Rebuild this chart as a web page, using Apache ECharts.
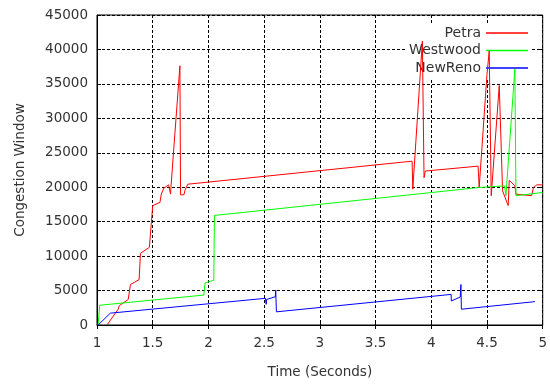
<!DOCTYPE html>
<html>
<head>
<meta charset="utf-8">
<script src="https://cdn.jsdelivr.net/npm/echarts@6/dist/echarts.min.js"></script>
<style>
  html, body { margin: 0; padding: 0; background: #fff; }
  #chart { width: 550px; height: 384px; }
</style>
</head>
<body>
<div id="chart"></div>
<script>
// congestion window traces (time in s, cwnd)
const petraTime = [1.09, 1.19, 1.2, 1.28, 1.30, 1.378, 1.39, 1.47, 1.50, 1.565, 1.577, 1.60, 1.643, 1.655, 1.66, 1.665, 1.744, 1.75, 1.78, 1.79, 1.80, 1.815,
  3.828, 3.834, 3.92, 3.935, 3.947, 4.42, 4.43, 4.50, 4.52, 4.538, 4.61, 4.64, 4.69, 4.70, 4.75, 4.76, 4.90, 4.917, 4.947, 5.0]
const petraCwnd = [0, 2300, 2800, 3700, 5870, 6590, 10400, 11270, 17330, 17800, 19000, 19870, 20340, 20200, 19000, 20300, 37630, 18900, 18900, 19580, 19700, 20440,
  23780, 19720, 41200, 21390, 22350, 23060, 19960, 36400, 39780, 18770, 34760, 19480, 17330, 21000, 20200, 19000, 18770, 19960, 20340, 20340]

const westwoodTime = [1.01, 1.024, 1.958, 1.97, 2.048, 2.054, 4.43, 4.657, 4.67, 4.75, 4.76, 5.0]
const westwoodCwnd = [0, 2865, 4345, 6110, 6500, 15900, 19960, 20200, 18770, 37150, 18770, 19240]

const newRenoTime = [1.01, 1.12, 2.512, 2.518, 2.522, 2.60, 2.604, 2.61, 4.178, 4.18, 4.26, 4.266, 4.27, 4.93]
const newRenoCwnd = [0, 1720, 3870, 3000, 3700, 4100, 5060, 1910, 4440, 3490, 4060, 5870, 2290, 3390]

const seriesNames = ['Petra', 'Westwood', 'NewReno']
const seriesColors = ['#ff0000', '#00ff00', '#0000ff']

const zip = (xs, ys) => xs.map((x, i) => [x, ys[i]])
const traces = [zip(petraTime, petraCwnd), zip(westwoodTime, westwoodCwnd), zip(newRenoTime, newRenoCwnd)]

const labelStyle = { fontFamily: 'DejaVu Sans', fontSize: 13.5, color: '#333' }
const gridLine = { show: true, lineStyle: { color: '#000', type: [3, 2], width: 1 } }
const tickIn = { show: true, inside: true, length: 4, lineStyle: { color: '#000' } }

// mirrored axes on top/right: ticks only
const mirror = (extra) => Object.assign({
  type: 'value',
  axisLine: { show: false },
  axisTick: tickIn,
  axisLabel: { show: false },
  splitLine: { show: false }
}, extra)

const chart = echarts.init(document.getElementById('chart'))

chart.setOption({
  animation: false,
  grid: {
    left: 97, right: 4, top: 15, bottom: 55,
    show: true, borderColor: '#000', borderWidth: 1
  },
  legend: {
    data: seriesNames,
    orient: 'vertical',
    align: 'right',
    right: 20,
    top: 23,
    z: 1, // above the grid lines, below the traces
    backgroundColor: '#fff',
    padding: [2, 2, 3, 3],
    icon: 'rect',
    itemWidth: 42,
    itemHeight: 1.5,
    itemGap: 1.5,
    textStyle: { fontFamily: 'DejaVu Sans', fontSize: 14, color: '#333', lineHeight: 16 }
  },
  xAxis: [{
    type: 'value',
    min: 1,
    max: 5,
    interval: 0.5,
    name: 'Time (Seconds)',
    nameLocation: 'middle',
    nameGap: 40,
    nameTextStyle: labelStyle,
    axisLine: { lineStyle: { color: '#000' } },
    axisTick: tickIn,
    axisLabel: Object.assign({ margin: 11 }, labelStyle),
    splitLine: gridLine
  }, mirror({ position: 'top', min: 1, max: 5, interval: 0.5 })],
  yAxis: [{
    type: 'value',
    min: 0,
    max: 45000,
    interval: 5000,
    name: 'Congestion Window',
    nameLocation: 'middle',
    nameGap: 70,
    nameTextStyle: labelStyle,
    axisLine: { show: true, lineStyle: { color: '#000' } },
    axisTick: tickIn,
    axisLabel: Object.assign({ margin: 9, formatter: v => String(v) }, labelStyle),
    splitLine: gridLine
  }, mirror({ position: 'right', min: 0, max: 45000, interval: 5000 })],
  series: seriesNames.map((name, i) => ({
    name: name,
    type: 'line',
    z: 2,
    data: traces[i],
    symbol: 'none',
    color: seriesColors[i],
    lineStyle: { width: 1, color: seriesColors[i] }
  }))
})
</script>
</body>
</html>
